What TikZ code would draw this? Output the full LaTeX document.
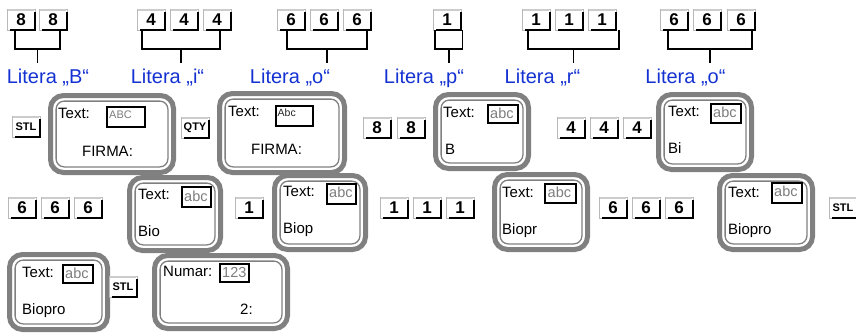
\documentclass[tikz,border=0pt]{standalone}
\usepackage{fontspec}
\setmainfont{Liberation Sans}
\usetikzlibrary{calc}
\definecolor{litblue}{RGB}{20,50,210}
\definecolor{framegray}{RGB}{128,128,128}
\definecolor{txtgray}{RGB}{125,125,125}
\tikzset{
  keyst/.style={draw=gray!55, line width=0.8pt, fill=white,
    minimum width=28pt, minimum height=21pt, inner sep=0pt, outer sep=0pt,
    font=\bfseries\fontsize{17}{18}\selectfont},
  keysm/.style={font=\bfseries\fontsize{11}{12}\selectfont},
  keyedge/.style={black, line width=2pt},
  keytop/.style={gray!40, line width=2.2pt},
  disp/.style={draw=framegray, line width=5pt, fill=white, rounded corners=13pt,
    inner sep=0pt, outer sep=0pt},
  dispin/.style={draw=framegray, line width=1.3pt, rounded corners=8pt},
  tx/.style={inner sep=0pt, anchor=base west, font=\fontsize{15}{18}\selectfont},
  txc/.style={inner sep=0pt, anchor=base, font=\fontsize{15}{18}\selectfont},
  inbox/.style={draw=black, line width=1.4pt, fill=white, inner sep=0pt, outer sep=0pt},
  intxt/.style={text=txtgray, inner sep=0pt, anchor=base west, font=\fontsize{14.5}{18}\selectfont},
  lbl/.style={text=litblue, inner sep=0pt, anchor=base, font=\fontsize{20}{24}\selectfont},
  brk/.style={black, line width=1.6pt}
}
% key: name, left x, top y, text, extra style
\newcommand\kb[5][]{%
  \node[keyst,#1] (#2) at (#3+14,#4+10.5) {#5};
  \draw[keytop] ([shift={(0.5pt,-1.2pt)}]#2.north west) -- ([shift={(-1pt,-1.2pt)}]#2.north east);
  \draw[keyedge] ([yshift=-3pt]#2.north east) -- (#2.south east) -- ([xshift=3pt]#2.south west);}
% display: name, cx, cy, w, h
\newcommand\dsp[5]{%
  \node[disp, minimum width=#4pt, minimum height=#5pt] (#1) at (#2,#3) {};
  \draw[dispin] ([shift={(5.6pt,-5.6pt)}]#1.north west) rectangle ([shift={(-5.6pt,5.6pt)}]#1.south east);}
% input box: name, x1, y1, x2, y2
\newcommand\ibox[5]{%
  \node[inbox, minimum width=#4pt-#2pt, minimum height=#5pt-#3pt, anchor=north west] (#1) at (#2,#3) {};}
% bracket: left key, left offset, right key, right offset, name
\newcommand\keybrk[5]{%
  \draw[brk] ([xshift=#2pt]#1.south west) -- ++(0,19) coordinate (#5a) -| ([xshift=-#4pt]#3.south east) coordinate (#5b);
  \coordinate (#5m) at ($(#5a)!0.5!(#5b |- #5a)$);
  \draw[brk] (#5m) -- ++(0,14);}
\begin{document}
\begin{tikzpicture}[x=1pt,y=-1pt]
\useasboundingbox (0,0) rectangle (856,332);
% ---------- top row keys ----------
\kb{t1a}{7}{9}{8\hspace{8pt}}
\kb{t1b}{39}{9}{8\hspace{8pt}}
\kb{t2a}{137}{9}{4\hspace{8pt}}
\kb{t2b}{170}{9}{4\hspace{8pt}}
\kb{t2c}{203}{9}{4\hspace{8pt}}
\kb{t3a}{277}{9}{6\hspace{8pt}}
\kb{t3b}{310}{9}{6\hspace{8pt}}
\kb{t3c}{343}{9}{6\hspace{8pt}}
\kb{t4a}{433}{9}{1\hspace{8pt}}
\kb{t5a}{522}{9}{1\hspace{8pt}}
\kb{t5b}{555}{9}{1\hspace{8pt}}
\kb{t5c}{588}{9}{1\hspace{8pt}}
\kb{t6a}{660}{9}{6\hspace{8pt}}
\kb{t6b}{693}{9}{6\hspace{8pt}}
\kb{t6c}{727}{9}{6\hspace{8pt}}
% brackets
\keybrk{t1a}{8}{t1b}{7}{b1}
\keybrk{t2a}{5}{t2c}{11}{b2}
\keybrk{t3a}{10}{t3c}{4}{b3}
\keybrk{t4a}{2}{t4a}{-1.5}{b4}
\keybrk{t5a}{6}{t5c}{-3}{b5}
\keybrk{t6a}{8}{t6c}{3}{b6}
% labels
\node[lbl] (l1) at (48,83) {Litera „B“};
\node[lbl] (l2) at (167.5,83) {Litera „i“};
\node[lbl] (l3) at (290,83) {Litera „o“};
\node[lbl] (l4) at (424,83) {Litera „p“};
\node[lbl] (l5) at (542.5,83) {Litera „r“};
\node[lbl] (l6) at (685.5,83) {Litera „o“};
% ---------- row 2 ----------
\kb[keysm]{s1}{12}{116}{STL\hspace{3pt}}
\dsp{d1}{112}{134}{123}{77}
\kb[keysm]{q1}{181}{117}{QTY\hspace{3pt}}
\dsp{d2}{282}{133}{125}{79}
\kb{r2a}{363}{117}{8\hspace{8pt}}
\kb{r2b}{397}{117}{8\hspace{8pt}}
\dsp{d3}{482}{131.5}{93}{74}
\kb{r2c}{557}{117}{4\hspace{8pt}}
\kb{r2d}{590}{117}{4\hspace{8pt}}
\kb{r2e}{623}{117}{4\hspace{8pt}}
\dsp{d4}{705}{132}{93}{75}
% ---------- row 3 ----------
\kb{r3a}{8}{197}{6\hspace{8pt}}
\kb{r3b}{41}{197}{6\hspace{8pt}}
\kb{r3c}{74}{197}{6\hspace{8pt}}
\dsp{d5}{175}{214}{91}{73}
\kb{r3d}{235}{197}{1\hspace{8pt}}
\dsp{d6}{320}{212.5}{91}{74}
\kb{r3e}{380}{197}{1\hspace{8pt}}
\kb{r3f}{413}{197}{1\hspace{8pt}}
\kb{r3g}{446}{197}{1\hspace{8pt}}
\dsp{d7}{541}{212}{93}{75}
\kb{r3h}{599}{197}{6\hspace{8pt}}
\kb{r3i}{632}{197}{6\hspace{8pt}}
\kb{r3j}{665}{197}{6\hspace{8pt}}
\dsp{d8}{766}{212.5}{93}{74}
\kb[keysm]{s2}{829}{197}{STL\hspace{3pt}}
% ---------- row 4 ----------
\dsp{d9}{58.5}{292}{98}{75}
\kb[keysm]{s3}{109}{276}{STL\hspace{3pt}}
\dsp{d10}{221}{292}{133}{73}
% ---------- display contents ----------
\node[tx] (x1) at (58,118.3) {Text:};
\ibox{i1}{107}{107}{145}{127}
\node[intxt, font=\fontsize{11}{12}\selectfont] (v1) at (109,118.3) {ABC};
\node[txc] (f1) at (107.5,156.7) {FIRMA:};

\node[tx] (x2) at (228,116.7) {Text:};
\ibox{i2}{276}{106}{313}{126}
\node[intxt, text=black!85, font=\fontsize{10.5}{12}\selectfont] (v2) at (277.5,116) {Abc};
\node[txc] (f2) at (276.5,154) {FIRMA:};

\node[tx] (x3) at (443,117.5) {Text:};
\ibox{i3}{488}{105}{518}{123}
\node[intxt] (v3) at (490,118.5) {abc};
\node[tx] (w3) at (445,154) {B};

\node[tx] (x4) at (668,116.7) {Text:};
\ibox{i4}{711}{104}{741}{123}
\node[intxt] (v4) at (713,117.7) {abc};
\node[tx] (w4) at (668,153.3) {Bi};

\node[tx] (x5) at (138,199.3) {Text:};
\ibox{i5}{182}{187}{211}{207}
\node[intxt] (v5) at (184,201.7) {abc};
\node[tx] (w5) at (138,236.7) {Bio};

\node[tx] (x6) at (283,196.7) {Text:};
\ibox{i6}{327}{184}{356}{204}
\node[intxt] (v6) at (329,197.3) {abc};
\node[tx] (w6) at (283,233.3) {Biop};

\node[tx] (x7) at (502,197.3) {Text:};
\ibox{i7}{545}{184}{576}{203}
\node[intxt] (v7) at (547.5,197.7) {abc};
\node[tx] (w7) at (502,234) {Biopr};

\node[tx] (x8) at (728,197.3) {Text:};
\ibox{i8}{772}{183}{802}{203}
\node[intxt] (v8) at (774,196.7) {abc};
\node[tx] (w8) at (728,234) {Biopro};

\node[tx] (x9) at (22,277.3) {Text:};
\ibox{i9}{63}{265}{93}{283}
\node[intxt] (v9) at (65,278.3) {abc};
\node[tx] (w9) at (22,314) {Biopro};

\node[tx] (x10) at (163,276.7) {Numar:};
\ibox{i10}{220}{264}{249}{282}
\node[intxt] (v10) at (222,277.3) {123};
\node[tx] (w10) at (240,314) {2:};
\end{tikzpicture}
\end{document}
